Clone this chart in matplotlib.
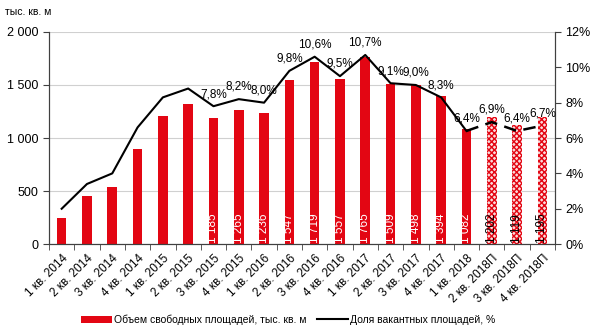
import matplotlib.pyplot as plt
import numpy as np

plt.rcParams['font.family'] = ['Liberation Sans', 'DejaVu Sans']

# данные
quarters = ['1 кв. 2014', '2 кв. 2014', '3 кв. 2014', '4 кв. 2014',
            '1 кв. 2015', '2 кв. 2015', '3 кв. 2015', '4 кв. 2015',
            '1 кв. 2016', '2 кв. 2016', '3 кв. 2016', '4 кв. 2016',
            '1 кв. 2017', '2 кв. 2017', '3 кв. 2017', '4 кв. 2017',
            '1 кв. 2018', '2 кв. 2018П', '3 кв. 2018П', '4 кв. 2018П']
volume = [245, 453, 538, 893, 1205, 1320, 1185, 1265, 1236, 1547, 1719,
          1557, 1765, 1509, 1498, 1394, 1082, 1202, 1119, 1195]
vacancy = [2.0, 3.4, 4.0, 6.6, 8.3, 8.8, 7.8, 8.2, 8.0, 9.8, 10.6,
           9.5, 10.7, 9.1, 9.0, 8.3, 6.4, 6.9, 6.4, 6.7]
n_fact = 17          # фактические данные (остальное - прогноз)
first_vol_label = 6  # подписи объема начиная с 3 кв. 2015
first_pct_label = 6

red = '#e30613'
x = np.arange(len(quarters))

fig = plt.figure(figsize=(6, 3.33), dpi=100)
ax = fig.add_axes([0.0817, 0.267, 0.8433, 0.637])
ax2 = ax.twinx()

ax.bar(x[:n_fact], volume[:n_fact], width=0.38, color=red, zorder=2,
       label='Объем свободных площадей, тыс. кв. м')
ax.bar(x[n_fact:], volume[n_fact:], width=0.38, facecolor='#fbdada',
       edgecolor=red, hatch='xxxxxx', linewidth=0, zorder=2)

for i in range(first_vol_label, len(x)):
    s = f'{volume[i]:,}'.replace(',', ' ')
    ax.text(x[i], 12, s, rotation=90, rotation_mode='anchor',
            ha='left', va='center', fontsize=8.5,
            color='white' if i < n_fact else 'black', zorder=4)

ax.set_ylim(0, 2000)
ax.set_yticks([0, 500, 1000, 1500, 2000])
ax.set_yticklabels(['0', '500', '1 000', '1 500', '2 000'])
ax.yaxis.grid(True, color='#d0d0d0', linewidth=0.8, zorder=0)
ax.set_axisbelow(True)
ax.set_xlim(-0.5, len(x) - 0.5)
ax.set_xticks(x)
ax.set_xticklabels(quarters, rotation=45, ha='right', rotation_mode='anchor')
ax.set_xticks(np.arange(-0.5, len(x)), minor=True)
ax.tick_params(axis='x', which='major', length=0, labelsize=8.5, pad=6)
ax.tick_params(axis='x', which='minor', length=4, color='#404040')
ax.tick_params(axis='y', length=4, labelsize=9, color='#404040')

ax2.plot(x[:n_fact], vacancy[:n_fact], color='black', linewidth=1.5,
         label='Доля вакантных площадей, %', zorder=3)
ax2.plot(x[n_fact - 1:], vacancy[n_fact - 1:], color='black', linewidth=1.8,
         linestyle=(0, (5, 3)), zorder=3)
for i in range(first_pct_label, len(x)):
    ax2.text(x[i], vacancy[i] + 0.35, f'{vacancy[i]:.1f}%'.replace('.', ','),
             ha='center', va='bottom', fontsize=8.5)
ax2.set_ylim(0, 12)
ax2.set_yticks(range(0, 13, 2))
ax2.set_yticklabels([f'{v}%' for v in range(0, 13, 2)])
ax2.tick_params(axis='y', length=4, labelsize=9, color='#404040')

for a in (ax, ax2):
    a.spines['top'].set_visible(False)
    a.spines['left'].set_color('#404040')
    a.spines['right'].set_color('#404040')
    a.spines['bottom'].set_color('#404040')

fig.text(0.008, 0.965, 'тыс. кв. м', fontsize=7.5, va='center')

h1, l1 = ax.get_legend_handles_labels()
h2, l2 = ax2.get_legend_handles_labels()
fig.legend(h1 + h2, l1 + l2, loc='center', bbox_to_anchor=(0.48, 0.04),
           ncol=2, frameon=False, fontsize=7.5, handlelength=3,
           handletextpad=0.2, columnspacing=1.0)

fig.savefig('out.png', dpi=100)
